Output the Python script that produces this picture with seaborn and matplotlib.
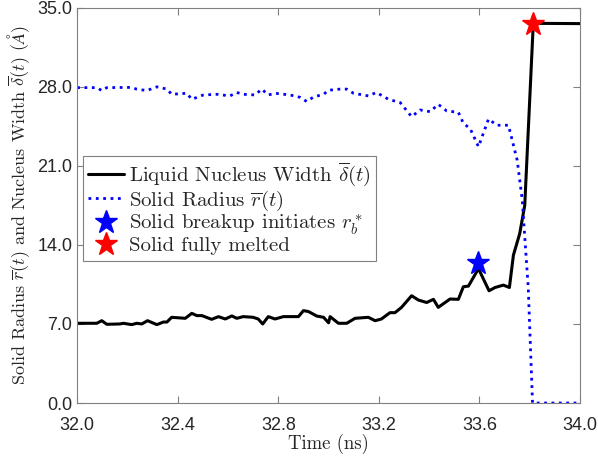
import numpy as np
import pandas as pd
import matplotlib
matplotlib.use('Agg')
import matplotlib.pyplot as plt
from matplotlib.ticker import FormatStrFormatter
import seaborn as sns

# data
width_t = [32.00, 32.078, 32.098, 32.118, 32.17, 32.184, 32.217, 32.237, 32.257, 32.28,
           32.317, 32.343, 32.357, 32.376, 32.43, 32.456, 32.476, 32.496, 32.535, 32.562,
           32.589, 32.615, 32.635, 32.66, 32.70, 32.72, 32.738, 32.76, 32.787, 32.82,
           32.88, 32.90, 32.92, 32.953, 32.98, 33.00, 33.006, 33.039, 33.072, 33.105,
           33.158, 33.185, 33.21, 33.244, 33.264, 33.29, 33.33, 33.357, 33.39, 33.417,
           33.436, 33.483, 33.516, 33.536, 33.556, 33.596, 33.638, 33.662, 33.695, 33.719,
           33.735, 33.76, 33.78, 33.814, 33.85, 34.00]
width_v = [7.06, 7.06, 7.29, 6.97, 7.00, 7.06, 6.94, 7.06, 7.00, 7.29,
           6.94, 7.17, 7.17, 7.59, 7.50, 7.94, 7.74, 7.74, 7.41, 7.65,
           7.44, 7.71, 7.50, 7.65, 7.59, 7.44, 7.00, 7.65, 7.44, 7.65,
           7.65, 8.18, 8.10, 7.70, 7.59, 7.10, 7.65, 7.06, 7.06, 7.50,
           7.59, 7.29, 7.44, 8.00, 8.00, 8.47, 9.50, 9.12, 8.90, 9.18,
           8.47, 9.21, 9.18, 10.30, 10.35, 11.90, 9.94, 10.23, 10.44, 10.23,
           13.10, 15.00, 17.50, 33.60, 33.62, 33.60]

radius_t = [32.00, 32.078, 32.098, 32.118, 32.21, 32.237, 32.277, 32.317, 32.357, 32.376,
            32.436, 32.456, 32.502, 32.555, 32.608, 32.635, 32.66, 32.708, 32.734, 32.76,
            32.787, 32.847, 32.887, 32.913, 32.94, 32.98, 33.00, 33.046, 33.072, 33.099,
            33.158, 33.19, 33.238, 33.285, 33.33, 33.364, 33.404, 33.436, 33.47, 33.516,
            33.536, 33.563, 33.596, 33.636, 33.669, 33.715, 33.722, 33.75, 33.77, 33.794,
            33.811, 34.00]
radius_v = [27.93, 27.93, 27.67, 27.93, 27.95, 27.80, 27.67, 28.00, 27.80, 27.34,
            27.43, 26.90, 27.28, 27.34, 27.20, 27.50, 27.34, 27.28, 27.80, 27.28,
            27.43, 27.28, 27.07, 26.70, 27.10, 27.34, 27.70, 27.80, 27.80, 27.43,
            27.20, 27.50, 26.90, 26.60, 25.36, 25.95, 25.80, 26.45, 25.86, 25.75,
            24.77, 24.30, 22.70, 25.15, 24.60, 24.60, 24.00, 21.50, 18.00, 10.20,
            0.00, 0.00]

breakup_t, breakup_v = [33.596], [12.37]
melted_t, melted_v = [33.814], [33.60]

width_df = pd.DataFrame({'t': width_t, 'v': width_v})
radius_df = pd.DataFrame({'t': radius_t, 'v': radius_v})

sns.set_style('ticks')
plt.rcParams['mathtext.fontset'] = 'cm'
plt.rcParams['font.family'] = ['Liberation Sans', 'DejaVu Sans']
SERIF = ['cmr10', 'DejaVu Serif']

fig = plt.figure(figsize=(5.98, 4.59), dpi=100)
ax = fig.add_axes([0.129, 0.122, 0.841, 0.861])

sns.lineplot(data=width_df, x='t', y='v', ax=ax, color='black', lw=2.2,
             label=r'Liquid Nucleus Width $\overline{\delta}(t)$', estimator=None, sort=False)
sns.lineplot(data=radius_df, x='t', y='v', ax=ax, color='#0000ff', lw=2.0, linestyle=':',
             label=r'Solid Radius $\overline{r}(t)$', estimator=None, sort=False)
ax.plot(breakup_t, breakup_v, linestyle='none', marker='*', markersize=17, color='#0000ff',
        label=r'Solid breakup initiates $r_b^*$')
ax.plot(melted_t, melted_v, linestyle='none', marker='*', markersize=17, color='#ff0000',
        label='Solid fully melted')

ax.set_xlim(32, 34)
ax.set_ylim(0, 35)
ax.set_xticks(np.arange(32, 34.01, 0.4))
ax.set_yticks(np.arange(0, 35.01, 7))
ax.xaxis.set_major_formatter(FormatStrFormatter('%.1f'))
ax.yaxis.set_major_formatter(FormatStrFormatter('%.1f'))
ax.tick_params(direction='in', length=5, width=0.8, top=True, right=True,
               labelsize=13, colors='#808080', labelcolor='#262626')
ax.tick_params(axis='x', pad=10)
for s in ax.spines.values():
    s.set_visible(True)
    s.set_color('#808080')
    s.set_linewidth(0.8)

ax.set_xlabel('Time (ns)', fontsize=13.5, family=SERIF, color='#262626', labelpad=0)
ax.set_ylabel(r'Solid Radius $\overline{r}(t)$ and Nucleus Width $\overline{\delta}(t)$ $(\AA)$',
              fontsize=13, family=SERIF, color='#262626', labelpad=4)

leg = ax.legend(loc='upper left', bbox_to_anchor=(0.012, 0.625), fancybox=False,
                framealpha=1, edgecolor='#808080', borderpad=0.25, labelspacing=0.0,
                handlelength=1.7, handletextpad=0.25, borderaxespad=0,
                prop={'family': SERIF, 'size': 15})
leg.get_frame().set_linewidth(0.8)

fig.savefig('out.png', dpi=100)
